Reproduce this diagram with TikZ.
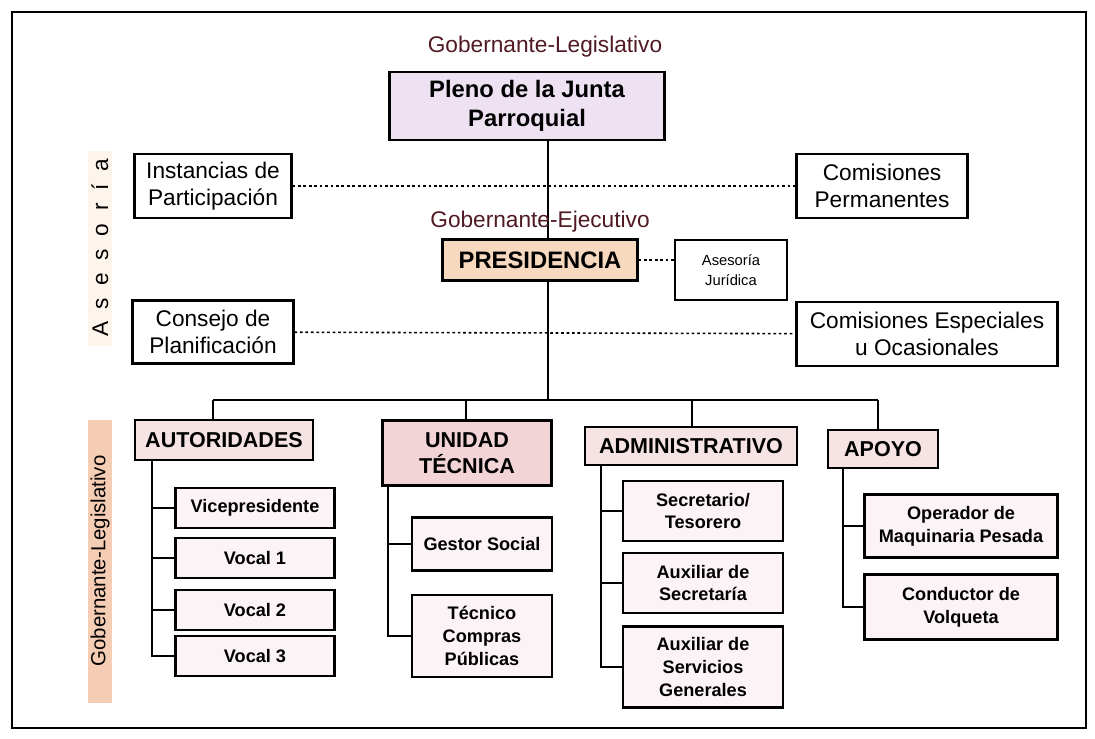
\documentclass[tikz,border=0pt]{standalone}
\usepackage{fontspec}
\setmainfont{Liberation Sans}
\usepackage{xcolor}
\usepackage{tikz}
\usetikzlibrary{backgrounds}

\definecolor{lila}{RGB}{238,226,242}
\definecolor{durazno}{RGB}{247,217,192}
\definecolor{rosa}{RGB}{246,228,229}
\definecolor{rosafuerte}{RGB}{242,212,214}
\definecolor{rosaclaro}{RGB}{251,243,245}
\definecolor{naranja}{RGB}{245,205,180}
\definecolor{vino}{RGB}{80,25,35}

\begin{document}
\begin{tikzpicture}[x=0.0155cm, y=-0.0155cm,
    font=\fontsize{10}{12}\selectfont,
    caja/.style 2 args={draw, line width=0.9pt, align=center, inner sep=0pt,
        minimum width=#1*0.0155cm, minimum height=#2*0.0155cm},
    jefe/.style={font=\bfseries\fontsize{9.5}{11.5}\selectfont},
    sub/.style={fill=rosaclaro, font=\bfseries\fontsize{8}{10}\selectfont},
    etiqueta/.style={rotate=90, inner sep=0pt, minimum height=24*0.0155cm},
    linea/.style={line width=0.9pt},
    punteada/.style={line width=0.7pt, dash pattern=on 1.2pt off 1.2pt}]
    \useasboundingbox (0,0) rectangle (1095,738);
    \draw[line width=1.1pt] (12,12) rectangle (1086,728);

    % nivel superior
    \node[text=vino] (tleg) at (545,47) {Gobernante-Legislativo};
    \node[caja={275}{68}, fill=lila, font=\bfseries\fontsize{10.5}{13}\selectfont] (pleno) at (527,106) {Pleno de la Junta\\Parroquial};
    \node[caja={157}{64}] (inst) at (213,186) {Instancias de\\Participación};
    \node[caja={171}{64}] (cper) at (882,186) {Comisiones\\Permanentes};
    \node[text=vino] (tejec) at (540,222) {Gobernante-Ejecutivo};
    \node[caja={195}{41}, fill=durazno, font=\bfseries\fontsize{10.5}{12}\selectfont] (presi) at (540,260) {PRESIDENCIA};
    \node[caja={112}{60}, font=\fontsize{6.5}{9}\selectfont] (jur) at (731,270) {Asesoría\\Jurídica};
    \node[caja={161}{63}] (cons) at (213,332) {Consejo de\\Planificación};
    \node[caja={261}{64}] (cesp) at (927,334) {Comisiones Especiales\\u Ocasionales};

    % etiquetas verticales
    \node[etiqueta, fill=durazno!30, minimum width=195*0.0155cm] (ases) at (100,248) {A~~s~~e~~s~~o~~r~~í~~a};
    \node[etiqueta, fill=naranja, minimum width=283*0.0155cm, font=\fontsize{9}{11}\selectfont] (gleg) at (100,561) {Gobernante-Legislativo};

    % areas
    \node[caja={178}{40}, jefe, fill=rosa] (auto) at (224,440) {AUTORIDADES};
    \node[caja={169}{65}, jefe, fill=rosafuerte] (unid) at (467,453) {UNIDAD\\TÉCNICA};
    \node[caja={212}{38}, jefe, fill=rosa] (admi) at (691,446) {ADMINISTRATIVO};
    \node[caja={110}{38}, jefe, fill=rosa] (apoy) at (883,449) {APOYO};

    % cargos
    \node[caja={159}{40}, sub] (vice) at (255,508) {Vicepresidente};
    \node[caja={159}{40}, sub] (voc1) at (255,558) {Vocal 1};
    \node[caja={159}{40}, sub] (voc2) at (255,610) {Vocal 2};
    \node[caja={159}{40}, sub] (voc3) at (255,656) {Vocal 3};
    \node[caja={140}{53}, sub] (gest) at (482,544) {Gestor Social};
    \node[caja={140}{82}, sub] (tecn) at (482,636) {Técnico\\Compras\\Públicas};
    \node[caja={160}{60}, sub] (secr) at (703,511) {Secretario/\\Tesorero};
    \node[caja={160}{60}, sub] (axse) at (703,583) {Auxiliar de\\Secretaría};
    \node[caja={160}{81}, sub] (axsg) at (703,667) {Auxiliar de\\Servicios\\Generales};
    \node[caja={193}{63}, sub] (oper) at (961,526) {Operador de\\Maquinaria Pesada};
    \node[caja={193}{65}, sub] (cond) at (961,607) {Conductor de\\Volqueta};

    \coordinate (bc) at (548,400);
    \coordinate (b1) at (213,400);
    \coordinate (b2) at (466,400);
    \coordinate (b3) at (692,400);
    \coordinate (b4) at (878,400);
    \coordinate (ta) at (152,460);
    \coordinate (tu) at (388,486);
    \coordinate (tad) at (601,465);
    \coordinate (tap) at (843,468);

    \begin{scope}[on background layer]
        \draw[linea] (pleno.south -| bc) -- (bc);
        \draw[punteada] (inst) -- (cper);
        \draw[punteada] (cons) -- (cesp);
        \draw[punteada] (presi.east) -- (presi.east -| jur.west);
        \draw[linea] (b1) -- (b4);  % barra de areas
        \foreach \b/\n in {b1/auto,b2/unid,b3/admi,b4/apoy}
            \draw[linea] (\b) -- (\b |- \n.north);
        \foreach \n in {vice,voc1,voc2,voc3}
            \draw[linea] (ta) |- (\n.west);
        \foreach \n in {gest,tecn}
            \draw[linea] (tu) |- (\n.west);
        \foreach \n in {secr,axse,axsg}
            \draw[linea] (tad) |- (\n.west);
        \foreach \n in {oper,cond}
            \draw[linea] (tap) |- (\n.west);
    \end{scope}
\end{tikzpicture}
\end{document}
